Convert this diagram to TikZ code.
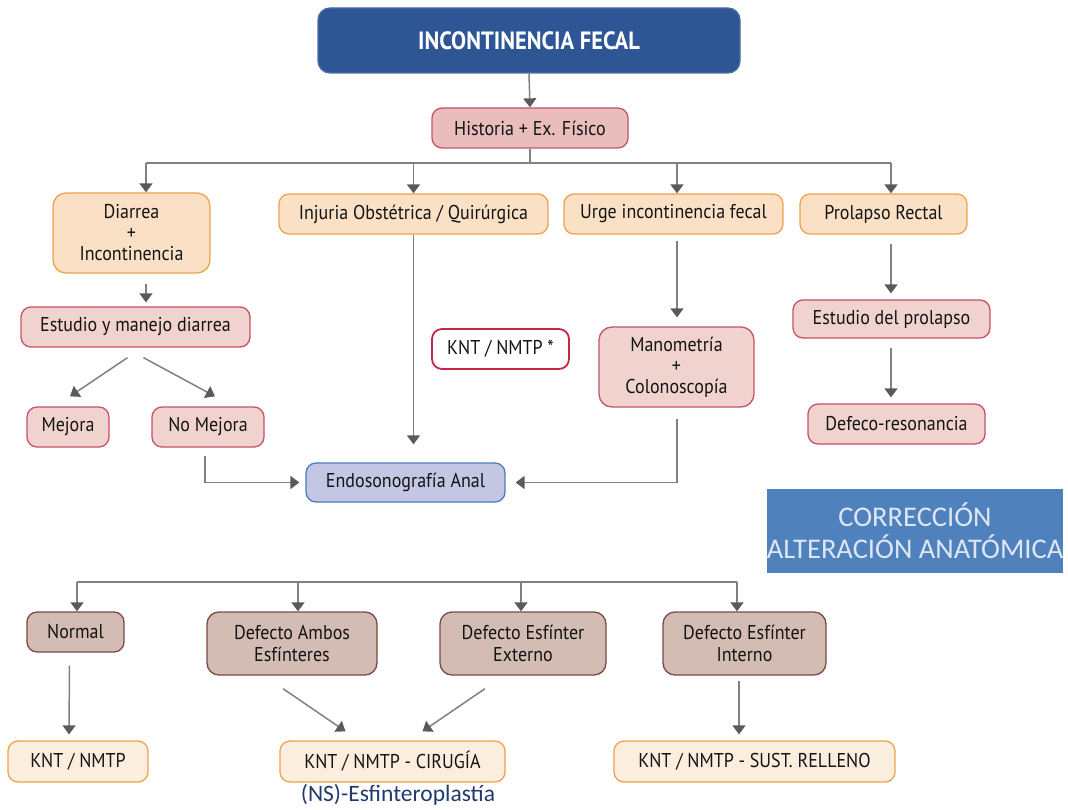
\documentclass[tikz,border=0pt]{standalone}
\usepackage{fontspec}
\setmainfont{PT Sans}[FakeStretch=0.9]
\newfontfamily\calib{Carlito}
\usetikzlibrary{arrows.meta,calc}
\definecolor{titlec}{HTML}{2E5594}
\definecolor{pinkf}{HTML}{F0D3CE}
\definecolor{pinkd}{HTML}{E8BDBC}
\definecolor{pinkb}{HTML}{C9506A}
\definecolor{orf}{HTML}{FAE1C5}
\definecolor{orb}{HTML}{EFA24C}
\definecolor{orl}{HTML}{FCEEDF}
\definecolor{brf}{HTML}{D3BCB4}
\definecolor{brb}{HTML}{7A4A43}
\definecolor{endf}{HTML}{C3C7E4}
\definecolor{endb}{HTML}{4B7DB8}
\definecolor{redb}{HTML}{C8254A}
\definecolor{corrf}{HTML}{4F81BD}
\definecolor{corrt}{HTML}{DDE7F3}
\definecolor{nsc}{HTML}{1F3A6E}
\definecolor{linec}{HTML}{808080}
\definecolor{tipc}{HTML}{5A5A5A}
\definecolor{txt}{HTML}{141414}
\tikzset{
  box/.style={rounded corners=10pt, line width=1.3pt, align=center, text=txt,
    font=\fontsize{20}{24}\selectfont, inner sep=0pt},
  pinkbox/.style={box, fill=pinkf, draw=pinkb},
  orbox/.style={box, fill=orf, draw=orb},
  orlbox/.style={box, fill=orl, draw=orb},
  brbox/.style={box, fill=brf, draw=brb},
  arr/.style={draw=linec, line width=1.5pt, -{Triangle[width=13pt,length=9pt,color=tipc]}},
  ln/.style={draw=linec, line width=1.5pt},
}
\begin{document}
\begin{tikzpicture}[x=1pt,y=-1pt]
\useasboundingbox (0,0) rectangle (1068,810);
% title
\node[box, fill=titlec, draw=titlec!85!white, rounded corners=12pt, text=white,
  minimum width=422pt, minimum height=65pt, font=\bfseries\fontsize{25}{28}\selectfont]
  (title) at (529,40.5) {INCONTINENCIA FECAL};
\node[pinkbox, fill=pinkd, minimum width=196pt, minimum height=40pt] (hist) at (530,128) {Historia + Ex. Físico};
% second row
\node[orbox, rounded corners=13pt, minimum width=157pt, minimum height=80pt] (diar) at (131.5,233) {Diarrea\\[-3pt]+\\[-3pt]Incontinencia};
\node[orbox, minimum width=269pt, minimum height=40pt] (inj) at (413.5,214) {Injuria Obstétrica / Quirúrgica};
\node[orbox, minimum width=219pt, minimum height=40pt] (urge) at (673.5,214) {Urge incontinencia fecal};
\node[orbox, minimum width=167pt, minimum height=40pt] (prol) at (883.5,214) {Prolapso Rectal};
% third
\node[pinkbox, minimum width=229pt, minimum height=40pt] (est) at (135.5,327) {Estudio y manejo diarrea};
\node[pinkbox, minimum width=82pt, minimum height=40pt] (mej) at (68,427) {Mejora};
\node[pinkbox, minimum width=112pt, minimum height=40pt] (nomej) at (208,427) {No Mejora};
\node[box, fill=white, draw=redb, line width=1.8pt, minimum width=137pt, minimum height=40pt] (knt) at (500.5,349) {KNT / NMTP *};
\node[pinkbox, rounded corners=13pt, minimum width=155pt, minimum height=80pt] (mano) at (676.5,367) {Manometría\\[-3pt]+\\[-3pt]Colonoscopía};
\node[pinkbox, minimum width=197pt, minimum height=38pt] (estp) at (891.5,319) {Estudio del prolapso};
\node[pinkbox, minimum width=177pt, minimum height=40pt] (defe) at (896.5,424) {Defeco-resonancia};
\node[box, fill=endf, draw=endb, minimum width=199pt, minimum height=39pt] (endo) at (405.5,482.5) {Endosonografía Anal};
% correccion
\node[fill=corrf, minimum width=296pt, minimum height=84pt, inner sep=0pt, align=center,
  text=corrt, font=\calib\fontsize{28.5}{32}\selectfont] (corr) at (915,531) {CORRECCIÓN\\ALTERACIÓN ANATÓMICA};
% bottom
\node[brbox, minimum width=97pt, minimum height=40pt] (normal) at (75.5,632) {Normal};
\node[brbox, rounded corners=12pt, minimum width=170pt, minimum height=63pt] (ambos) at (292,643.5) {Defecto Ambos\\[-2pt]Esfínteres};
\node[brbox, rounded corners=12pt, minimum width=166pt, minimum height=63pt] (ext) at (523,643.5) {Defecto Esfínter\\[-2pt]Externo};
\node[brbox, rounded corners=12pt, minimum width=163pt, minimum height=63pt] (int) at (744.5,643.5) {Defecto Esfínter\\[-2pt]Interno};
\node[orlbox, minimum width=140pt, minimum height=41pt] (k1) at (78,761.5) {KNT / NMTP};
\node[orlbox, minimum width=225pt, minimum height=41pt] (k2) at (392.5,761.5) {KNT / NMTP - CIRUGÍA};
\node[orlbox, minimum width=281pt, minimum height=41pt] (k3) at (754.5,761.5) {KNT / NMTP - SUST. RELLENO};
\node[text=nsc, font=\calib\fontsize{23.5}{26}\selectfont, inner sep=0pt] (ns) at (398,795) {(NS)-Esfinteroplastía};
% connectors top
\draw[arr] (title.south) -- (hist.north);
\coordinate (busL) at (146,163);
\coordinate (busR) at (891,163);
\draw[ln] (hist.south) -- (hist.south |- busL);
\draw[ln] (busL) -- (busR);
\draw[arr] (busL) -- (busL |- diar.north);
\draw[arr] (inj.north |- busL) -- (inj.north);
\coordinate (u1) at ($(urge.north)+(3.5,0)$);
\draw[arr] (u1 |- busL) -- (u1);
\draw[arr] (busR) -- (busR |- prol.north);
\draw[arr, shorten <=10pt, shorten >=4pt] (busL |- diar.south) -- (busL |- est.north);
\draw[arr] ($(est.south)+(-8,10)$) -- ($(mej.north)+(2,-10)$);
\draw[arr] ($(est.south)+(8,10)$) -- ($(nomej.north)+(7,-10)$);
\draw[arr, shorten >=18pt] (inj.south) -- (inj.south |- endo.north);
\coordinate (u2) at ($(urge.south)+(3.5,0)$);
\draw[arr, shorten <=6pt, shorten >=9pt] (u2) -- (u2 |- mano.north);
\draw[arr, shorten <=9pt, shorten >=6pt] (busR |- prol.south) -- (busR |- estp.north);
\coordinate (p2) at ($(estp.south)+(-0.5,0)$);
\draw[arr, shorten <=9pt, shorten >=6pt] (p2) -- (p2 |- defe.north);
\draw[arr] ($(nomej.south)+(-3,8)$) |- ($(endo.west)+(-6,0)$);
\draw[arr] ($(mano.south)+(0.5,11)$) |- ($(endo.east)+(10,0)$);
% bottom connectors
\coordinate (bL) at (77,582);
\coordinate (bR) at (737,582);
\draw[ln] (bL) -- (bR);
\draw[arr] (bL) -- (bL |- normal.north);
\coordinate (t2) at ($(ambos.north)+(6,0)$);
\draw[arr] (t2 |- bL) -- (t2);
\coordinate (t3) at ($(ext.north)+(-2,0)$);
\draw[arr] (t3 |- bL) -- (t3);
\draw[arr] (bR) -- (bR |- int.north);
\draw[arr] ($(normal.south)+(-6,13)$) -- ($(k1.north)+(-9,-6)$);
\draw[arr] ($(ambos.south)+(-9,13)$) -- ($(k2.north)+(-47,-9)$);
\draw[arr] ($(ext.south)+(-38,13)$) -- ($(k2.north)+(30,-9)$);
\draw[arr] ($(int.south)+(-5.5,5)$) -- ($(k3.north)+(-15.5,-6)$);
\end{tikzpicture}
\end{document}
